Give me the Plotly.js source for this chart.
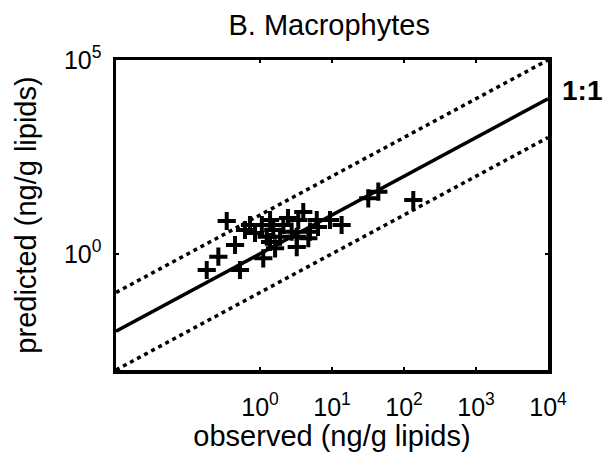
<!DOCTYPE html>
<html>
<head>
<meta charset="utf-8">
<script src="https://cdn.plot.ly/plotly-3.0.1.min.js"></script>
<style>
html,body{margin:0;padding:0;background:#fff;}
#chart{width:613px;height:458px;}
</style>
</head>
<body>
<div id="chart"></div>
<script>
// observed vs predicted concentrations (ng/g lipids)
var observed = [0.345, 3.99, 0.45, 0.264, 0.182, 0.527, 1.11, 1.62, 3.24, 6.39,
                0.726, 1.06, 1.53, 2.11, 2.75, 3.40, 4.95, 1.24, 1.90, 3.24,
                44.0, 31.9, 134.6, 13.6, 9.38, 6.14, 4.69, 0.853, 0.619, 2.45,
                1.38, 1.38];
var predicted = [7.0, 11.9, 1.68, 0.84, 0.381, 0.381, 0.764, 1.38, 1.49, 4.90,
                 5.52, 5.52, 4.10, 5.52, 3.71, 7.43, 3.71, 2.75, 2.75, 2.75,
                 39.9, 27.0, 24.4, 5.52, 7.43, 7.43, 2.51, 3.43, 4.10, 8.37,
                 7.43, 2.01];

// reference lines
var oneToOneX = [1e-2, 1e4];
var oneToOneY = [1e-2, 1e4];
var upperX = [1e-2, 1e4];
var upperY = [1e-1, 1e5];
var lowerX = [1e-2, 1e4];
var lowerY = [1e-3, 1e3];

// ticks
var xTickVals = [1, 10, 100, 1000, 10000];
var xTickText = ['10<sup>0</sup>', '10<sup>1</sup>', '10<sup>2</sup>', '10<sup>3</sup>', '10<sup>4</sup>'];
var yTickVals = [1, 100000];
var yTickText = ['10<sup>0</sup>', '10<sup>5</sup>'];

var FONT = '"Liberation Sans", Arial, Helvetica, sans-serif';

var traces = [
  {x: upperX, y: upperY, mode: 'lines', line: {color: '#000', width: 3.5, dash: '4px,4px'}, hoverinfo: 'skip'},
  {x: lowerX, y: lowerY, mode: 'lines', line: {color: '#000', width: 3.5, dash: '4px,4px'}, hoverinfo: 'skip'},
  {x: oneToOneX, y: oneToOneY, mode: 'lines', line: {color: '#000', width: 3.5}, hoverinfo: 'skip'},
  {x: observed, y: predicted, mode: 'markers',
   marker: {symbol: 'cross-thin', size: 13, color: '#000', line: {color: '#000', width: 4}}}
];

var layout = {
  width: 613, height: 458,
  margin: {l: 116, r: 65, t: 60, b: 88},
  paper_bgcolor: '#fff', plot_bgcolor: '#fff',
  showlegend: false,
  font: {family: FONT, color: '#000'},
  title: {text: 'B. Macrophytes', font: {family: FONT, size: 29, color: '#000'},
          x: 0.537, xanchor: 'center', y: 0.945, yanchor: 'middle'},
  xaxis: {
    type: 'log', range: [-2, 4],
    tickvals: xTickVals, ticktext: xTickText,
    ticks: 'inside', ticklen: 3, tickwidth: 2, tickcolor: '#000',
    showline: true, linewidth: 3.5, linecolor: '#000', mirror: 'ticks',
    showgrid: false, zeroline: false, ticklabelstandoff: 12,
    tickfont: {family: FONT, size: 25, color: '#000'},
    title: {text: 'observed (ng/g lipids)', font: {family: FONT, size: 29, color: '#000'}, standoff: 6}
  },
  yaxis: {
    type: 'log', range: [-3, 5],
    tickvals: yTickVals, ticktext: yTickText,
    ticks: 'inside', ticklen: 3, tickwidth: 2, tickcolor: '#000',
    showline: true, linewidth: 3.5, linecolor: '#000', mirror: 'ticks',
    showgrid: false, zeroline: false, ticklabelstandoff: 6,
    tickfont: {family: FONT, size: 25, color: '#000'},
    title: {text: 'predicted (ng/g lipids)', font: {family: FONT, size: 29, color: '#000'}, standoff: 20}
  },
  annotations: [
    {text: '<b>1:1</b>', xref: 'paper', x: 1, yref: 'y', y: 4,
     xanchor: 'left', yanchor: 'middle', xshift: 12, yshift: 8, showarrow: false,
     font: {family: FONT, size: 28, color: '#000'}}
  ]
};

Plotly.newPlot('chart', traces, layout, {displayModeBar: false, staticPlot: true});
</script>
</body>
</html>
